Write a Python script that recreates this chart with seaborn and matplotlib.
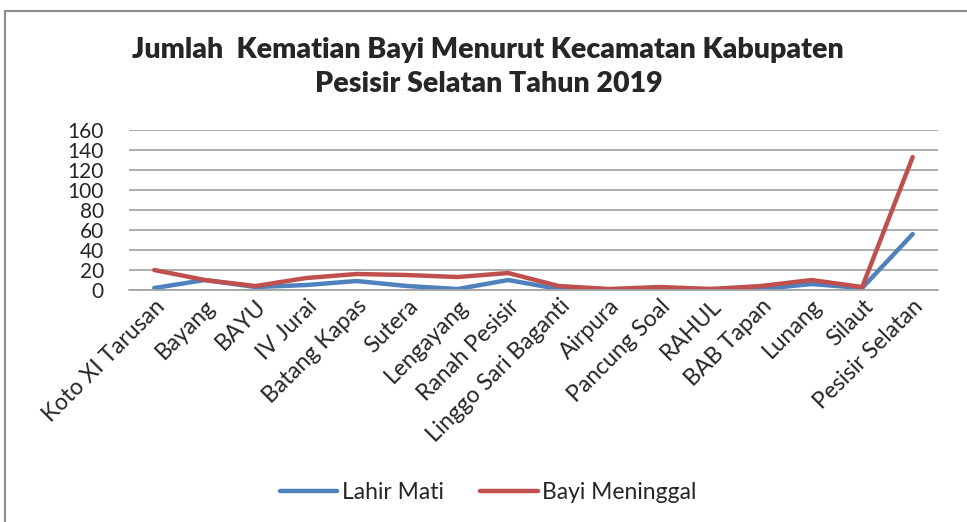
import pandas as pd
import matplotlib.pyplot as plt
import seaborn as sns
from matplotlib.patches import Rectangle

# data
kecamatan = ["Koto XI Tarusan", "Bayang", "BAYU", "IV Jurai", "Batang Kapas",
             "Sutera", "Lengayang", "Ranah Pesisir", "Linggo Sari Baganti",
             "Airpura", "Pancung Soal", "RAHUL", "BAB Tapan", "Lunang",
             "Silaut", "Pesisir Selatan"]
lahir_mati = [2, 10, 3, 5, 9, 4, 1, 10, 1, 0, 1, 1, 1, 6, 2, 56]
bayi_meninggal = [20, 10, 4, 12, 16, 15, 13, 17, 4, 1, 3, 1, 4, 10, 3, 133]

df = pd.concat([
    pd.DataFrame({"Kecamatan": kecamatan, "Jumlah": lahir_mati, "Seri": "Lahir Mati"}),
    pd.DataFrame({"Kecamatan": kecamatan, "Jumlah": bayi_meninggal, "Seri": "Bayi Meninggal"}),
])

sns.set_style("white")
plt.rcParams['font.family'] = ['Lato', 'DejaVu Sans']

fig = plt.figure(figsize=(9.67, 5.22), dpi=100)
ax = fig.add_axes([0.1334, 0.4444, 0.8366, 0.3065])

sns.lineplot(data=df, x="Kecamatan", y="Jumlah", hue="Seri", sort=False,
             palette={"Lahir Mati": "#4F81BD", "Bayi Meninggal": "#C0504D"},
             linewidth=3.2, ax=ax, legend=True)

ax.set_xlim(-0.5, len(kecamatan) - 0.5)
ax.set_ylim(0, 160)
ax.set_yticks(range(0, 161, 20))
ax.yaxis.grid(True, color="#A0A0A0", linewidth=1.2)
ax.set_axisbelow(True)
for s in ["top", "right", "left"]:
    ax.spines[s].set_visible(False)
ax.spines["bottom"].set_color("#A0A0A0")
ax.spines["bottom"].set_linewidth(1.2)
ax.set_xlabel("")
ax.set_ylabel("")
ax.tick_params(axis="y", labelsize=15, pad=18, length=0)
ax.tick_params(axis="x", labelsize=16.5, length=0, pad=4)
plt.setp(ax.get_xticklabels(), rotation=45, ha="right", rotation_mode="anchor")

fig.suptitle("Jumlah  Kematian Bayi Menurut Kecamatan Kabupaten\nPesisir Selatan Tahun 2019",
             x=0.505, y=0.93, fontsize=20.5, fontweight="heavy", linespacing=1.4)

handles, labels = ax.get_legend_handles_labels()
ax.legend(handles, labels, loc="center", bbox_to_anchor=(0.505, 0.057),
          bbox_transform=fig.transFigure, ncol=2, frameon=False,
          fontsize=16.5, handlelength=2.5, columnspacing=1.6, handletextpad=0.2)

# outer chart frame
fig.patches.append(Rectangle((5 / 967, -0.1), 1.2, 1.1 - 11 / 522,
                             transform=fig.transFigure, fill=False,
                             edgecolor="#8C8C8C", linewidth=1.5))

plt.savefig("out.png", dpi=100)
